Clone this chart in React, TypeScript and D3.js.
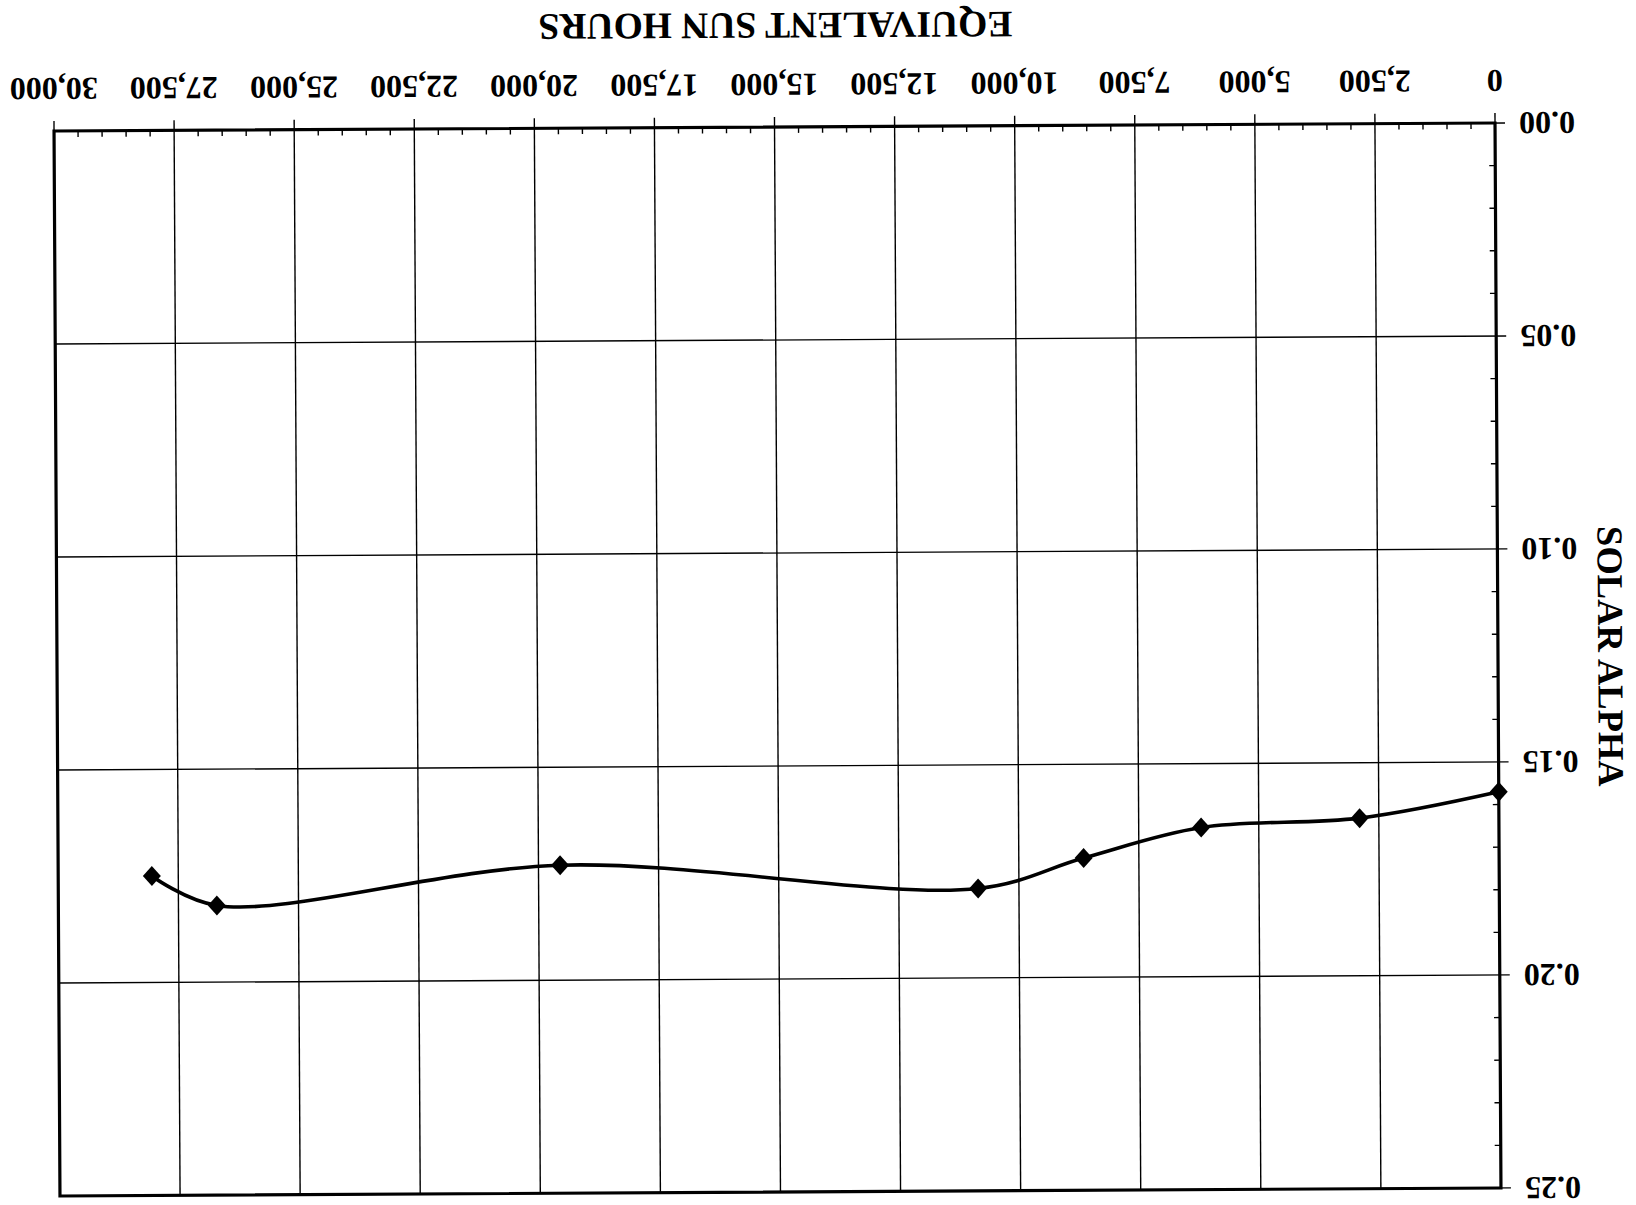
import React from "react";
import * as d3 from "d3";

// Data read from the (upside-down) scanned chart
const hours = [0, 2900, 6200, 8650, 10850, 19550, 26700, 28050];
const alpha = [0.157, 0.163, 0.165, 0.172, 0.179, 0.173, 0.182, 0.175];

const xMajorTicks = [0, 2500, 5000, 7500, 10000, 12500, 15000, 17500, 20000, 22500, 25000, 27500, 30000];
const yMajorTicks = [0, 0.05, 0.1, 0.15, 0.2, 0.25];

const xTitle = "EQUIVALENT SUN HOURS";
const yTitle = "SOLAR ALPHA";

export default function App() {
  const W = 1636;
  const H = 1205;
  const left = 57, right = 1498, top = 127, bottom = 1192;
  const cx = (left + right) / 2;
  const cy = (top + bottom) / 2;

  const x = d3.scaleLinear().domain([0, 30000]).range([left, right]);
  const y = d3.scaleLinear().domain([0, 0.25]).range([bottom, top]);

  const xMinor = d3.range(0, 30001, 500).filter((v) => v % 2500 !== 0);
  const yMinor = d3.range(0, 26).map((i) => i / 100).filter((_, i) => i % 5 !== 0);

  const pts: [number, number][] = hours.map((h, i) => [h, alpha[i]]);
  const linePath = d3
    .line<[number, number]>()
    .x((d) => x(d[0]))
    .y((d) => y(d[1]))
    .curve(d3.curveCatmullRom.alpha(0.5))(pts) as string;

  const fmtX = d3.format(",");
  const fmtY = d3.format(".2f");
  const font = "'Liberation Serif', 'Times New Roman', serif";
  const ink = "#000";

  const dw = 9, dh = 10;

  return (
    <svg
      width={W}
      height={H}
      style={{ position: "absolute", left: 0, top: 0, background: "#fff" }}
    >
      <rect x={0} y={0} width={W} height={H} fill="#fff" />
      <g transform={`rotate(179.68 ${cx} ${cy})`}>
        {/* vertical gridlines / major x ticks (extend outward below axis) */}
        {xMajorTicks.map((t) => (
          <line
            key={"vx" + t}
            x1={x(t)}
            x2={x(t)}
            y1={top}
            y2={bottom + 10}
            stroke={ink}
            strokeWidth={1.4}
          />
        ))}
        {/* horizontal gridlines / major y ticks (extend outward left of axis) */}
        {yMajorTicks.map((t) => (
          <line
            key={"hy" + t}
            x1={left - 10}
            x2={right}
            y1={y(t)}
            y2={y(t)}
            stroke={ink}
            strokeWidth={1.4}
          />
        ))}
        {/* minor ticks inward */}
        {xMinor.map((t) => (
          <line
            key={"mx" + t}
            x1={x(t)}
            x2={x(t)}
            y1={bottom}
            y2={bottom - 6}
            stroke={ink}
            strokeWidth={1.4}
          />
        ))}
        {yMinor.map((t) => (
          <line
            key={"my" + t}
            x1={left}
            x2={left + 6}
            y1={y(t)}
            y2={y(t)}
            stroke={ink}
            strokeWidth={1.4}
          />
        ))}
        {/* frame */}
        <rect
          x={left}
          y={top}
          width={right - left}
          height={bottom - top}
          fill="none"
          stroke={ink}
          strokeWidth={3.2}
        />
        {/* series line */}
        <path d={linePath} fill="none" stroke={ink} strokeWidth={3.6} strokeLinejoin="round" />
        {pts.map((d, i) => (
          <path
            key={"pt" + i}
            d={`M${x(d[0])},${y(d[1]) - dh}L${x(d[0]) + dw},${y(d[1])}L${x(d[0])},${y(d[1]) + dh}L${x(d[0]) - dw},${y(d[1])}Z`}
            fill={ink}
          />
        ))}
        {/* x tick labels */}
        {xMajorTicks.map((t) => (
          <text
            key={"xl" + t}
            x={x(t)}
            y={bottom + 53}
            textAnchor="middle"
            fontFamily={font}
            fontWeight="bold"
            fontSize={32}
            fill={ink}
          >
            {fmtX(t)}
          </text>
        ))}
        {/* y tick labels */}
        {yMajorTicks.map((t) => (
          <text
            key={"yl" + t}
            x={left - 24}
            y={y(t)}
            dy="0.33em"
            textAnchor="end"
            fontFamily={font}
            fontWeight="bold"
            fontSize={32}
            fill={ink}
          >
            {fmtY(t)}
          </text>
        ))}
        {/* axis titles */}
        <text
          x={776}
          y={1306}
          textAnchor="middle"
          fontFamily={font}
          fontWeight="bold"
          fontSize={37.5}
          fill={ink}
        >
          {xTitle}
        </text>
        <text
          transform={`translate(-56, 658) rotate(-90)`}
          textAnchor="middle"
          dy="0.35em"
          fontFamily={font}
          fontWeight="bold"
          fontSize={36.5}
          fill={ink}
        >
          {yTitle}
        </text>
      </g>
    </svg>
  );
}
